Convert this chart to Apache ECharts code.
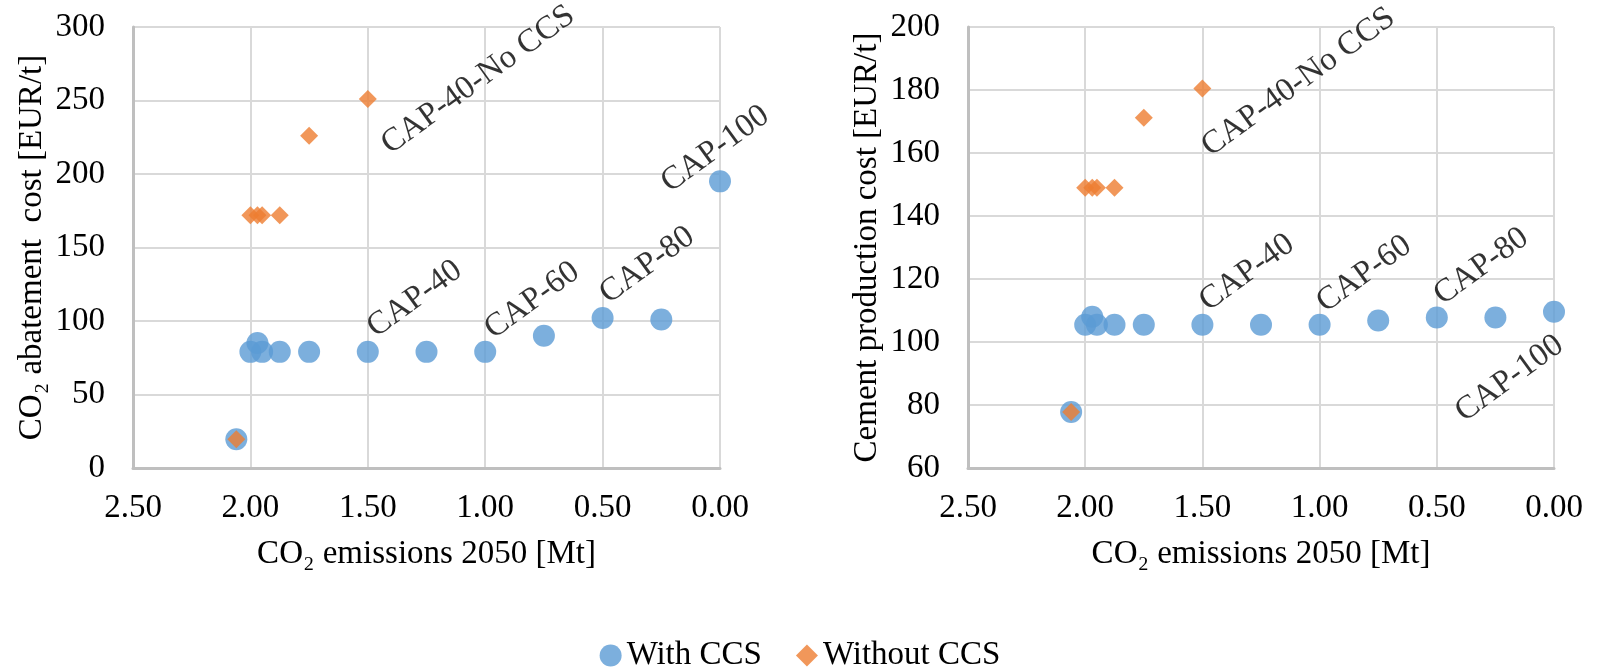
<!DOCTYPE html>
<html><head><meta charset="utf-8">
<script src="https://cdn.jsdelivr.net/npm/echarts@6/dist/echarts.min.js"></script>
<style>html,body{margin:0;padding:0;background:#fff}#c{width:1600px;height:669px}</style>
</head><body><div id="c"></div>
<script>
// CO2 emissions 2050 [Mt]
const emissionsWithCCS = [2.06, 2.00, 1.97, 1.95, 1.875, 1.75, 1.50, 1.25, 1.00, 0.75, 0.50, 0.25, 0.00];
const abatementWithCCS = [19.5, 79, 85, 79, 79, 79, 79, 79, 79, 90, 102, 101, 195];
const productionWithCCS = [77.8, 105.5, 108, 105.5, 105.5, 105.5, 105.5, 105.5, 105.5, 106.8, 107.8, 107.8, 109.6];
const emissionsWithoutCCS = [2.06, 2.00, 1.97, 1.95, 1.875, 1.75, 1.50];
const abatementWithoutCCS = [19.5, 172, 172, 172, 172, 226, 251];
const productionWithoutCCS = [77.8, 149, 149, 149, 149, 171.2, 180.5];

// annotation texts and their data positions
const leftNotes = ['CAP-40-No CCS', 'CAP-100', 'CAP-40', 'CAP-60', 'CAP-80'];
const leftNoteX = [1.03, 0.02, 1.30, 0.80, 0.31];
const leftNoteY = [264, 217, 115, 114, 138];
const rightNotes = ['CAP-40-No CCS', 'CAP-40', 'CAP-60', 'CAP-80', 'CAP-100'];
const rightNoteX = [1.09, 1.31, 0.81, 0.31, 0.19];
const rightNoteY = [182.5, 122, 121.6, 124, 88.4];

const xTicks = { min: 0, max: 2.5, interval: 0.5 };
const leftYTicks = { min: 0, max: 300, interval: 50 };
const rightYTicks = { min: 60, max: 200, interval: 20 };

const FONT = 'Liberation Serif';
const FS = 33;
const BLUE = '#5B9BD5', ORANGE = '#ED7D31';
const pairs = (xs, ys) => xs.map((x, i) => [x, ys[i]]);
const notes = (xs, ys, names) => xs.map((x, i) => ({ value: [x, ys[i]], name: names[i] }));

function xAxis(gi) {
  return {
    type: 'value', gridIndex: gi, inverse: true,
    min: xTicks.min, max: xTicks.max, interval: xTicks.interval,
    name: 'CO₂ emissions 2050 [Mt]', nameLocation: 'middle', nameGap: 70,
    nameTextStyle: { fontFamily: FONT, fontSize: FS, color: '#000' },
    axisLine: { show: true, onZero: false, lineStyle: { color: '#bfbfbf', width: 3 } },
    axisTick: { show: false },
    axisLabel: { fontFamily: FONT, fontSize: FS, color: '#000', margin: 24, formatter: v => v.toFixed(2) },
    splitLine: { show: true, lineStyle: { color: '#d9d9d9', width: 2 } }
  };
}
function yAxis(gi, t, name) {
  return {
    type: 'value', gridIndex: gi, min: t.min, max: t.max, interval: t.interval,
    name: name, nameLocation: 'middle', nameGap: 84, nameRotate: 90,
    nameTextStyle: { fontFamily: FONT, fontSize: FS, color: '#000' },
    axisLine: { show: true, onZero: false, lineStyle: { color: '#bfbfbf', width: 3 } },
    axisTick: { show: false },
    axisLabel: { fontFamily: FONT, fontSize: FS, color: '#000', margin: 28 },
    splitLine: { show: true, lineStyle: { color: '#d9d9d9', width: 2 } }
  };
}
function noteSeries(gi, data) {
  return {
    type: 'scatter', name: 'notes', xAxisIndex: gi, yAxisIndex: gi, data: data,
    symbolSize: 0, silent: true, z: 5,
    label: { show: true, position: 'inside', rotate: 36, formatter: p => p.name,
      fontFamily: FONT, fontSize: FS, color: '#000', align: 'center', verticalAlign: 'middle' }
  };
}

const chart = echarts.init(document.getElementById('c'), null, { renderer: 'canvas' });
chart.setOption({
  animation: false,
  backgroundColor: '#fff',
  grid: [
    { left: 133, top: 27, width: 587, height: 441 },
    { left: 968, top: 27, width: 586, height: 441 }
  ],
  xAxis: [xAxis(0), xAxis(1)],
  yAxis: [
    yAxis(0, leftYTicks, 'CO₂ abatement  cost [EUR/t]'),
    yAxis(1, rightYTicks, 'Cement production cost [EUR/t]')
  ],
  legend: {
    data: ['With CCS', 'Without CCS'], top: 634, left: 'center',
    itemWidth: 22, itemHeight: 22, itemGap: 34,
    textStyle: { fontFamily: FONT, fontSize: FS, color: '#000' }
  },
  series: [
    { type: 'scatter', name: 'With CCS', xAxisIndex: 0, yAxisIndex: 0, symbol: 'circle', symbolSize: 22,
      itemStyle: { color: BLUE }, data: pairs(emissionsWithCCS, abatementWithCCS) },
    { type: 'scatter', name: 'Without CCS', xAxisIndex: 0, yAxisIndex: 0, symbol: 'diamond', symbolSize: 18,
      itemStyle: { color: ORANGE }, data: pairs(emissionsWithoutCCS, abatementWithoutCCS) },
    { type: 'scatter', name: 'With CCS', xAxisIndex: 1, yAxisIndex: 1, symbol: 'circle', symbolSize: 22,
      itemStyle: { color: BLUE }, data: pairs(emissionsWithCCS, productionWithCCS) },
    { type: 'scatter', name: 'Without CCS', xAxisIndex: 1, yAxisIndex: 1, symbol: 'diamond', symbolSize: 18,
      itemStyle: { color: ORANGE }, data: pairs(emissionsWithoutCCS, productionWithoutCCS) },
    noteSeries(0, notes(leftNoteX, leftNoteY, leftNotes)),
    noteSeries(1, notes(rightNoteX, rightNoteY, rightNotes))
  ]
});
</script></body></html>
